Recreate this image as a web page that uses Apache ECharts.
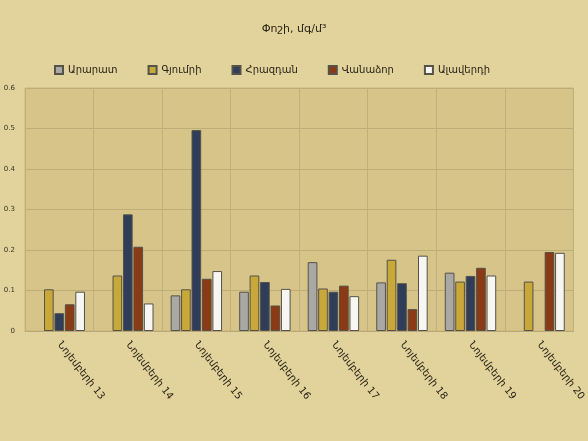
<!DOCTYPE html>
<html><head><meta charset="utf-8">
<script src="https://cdn.jsdelivr.net/npm/echarts@6/dist/echarts.min.js"></script>
<style>html,body{margin:0;padding:0;background:#e1d39b;}#c{width:588px;height:441px;}</style>
</head><body><div id="c"></div>
<script>
const categories = ['Նոյեմբերի 13','Նոյեմբերի 14','Նոյեմբերի 15','Նոյեմբերի 16','Նոյեմբերի 17','Նոյեմբերի 18','Նոյեմբերի 19','Նոյեմբերի 20'];
const ararat   = [null, null, 0.088, 0.097, 0.170, 0.120, 0.144, null];
const gyumri   = [0.103, 0.137, 0.103, 0.137, 0.105, 0.176, 0.122, 0.122];
const hrazdan  = [0.044, 0.288, 0.496, 0.121, 0.097, 0.118, 0.136, null];
const vanadzor = [0.066, 0.208, 0.129, 0.063, 0.112, 0.054, 0.156, 0.195];
const alaverdi = [0.097, 0.068, 0.148, 0.104, 0.086, 0.186, 0.137, 0.193];
const seriesNames = ['Արարատ','Գյումրի','Հրազդան','Վանաձոր','Ալավերդի'];
const yTicks = [0, 0.1, 0.2, 0.3, 0.4, 0.5, 0.6];

const colors = ['#a9a8a4','#c9a83a','#2f3d58','#8a3a14','#f7f6f2'];
const datasets = [ararat, gyumri, hrazdan, vanadzor, alaverdi];
const font = 'DejaVu Sans, Noto Sans, sans-serif';
const chart = echarts.init(document.getElementById('c'));
chart.setOption({
  backgroundColor: '#e1d39b',
  animation: false,
  title: {text: 'Փոշի, մգ/մ³', left: 'center', top: 19,
    textStyle: {fontSize: 11, fontWeight: 'normal', color: '#2a2418', fontFamily: font}},
  legend: {top: 60, left: 49, itemWidth: 8, itemHeight: 8, itemGap: 30,
    icon: 'rect', textStyle: {fontSize: 10, color: '#2a2418', fontFamily: font},
    data: seriesNames},
  grid: {left: 25, right: 13, top: 88, bottom: 110, show: true,
    backgroundColor: '#d6c489', borderColor: '#c8b57c', borderWidth: 1},
  xAxis: {type: 'category', data: categories,
    axisLine: {lineStyle: {color: '#b9a877'}}, axisTick: {show: false},
    splitLine: {show: true, lineStyle: {color: '#c2b07a'}},
    axisLabel: {rotate: -52, fontSize: 10, color: '#2a2418', fontFamily: font, margin: 12, interval: 0}},
  yAxis: {type: 'value', min: 0, max: 0.6, interval: 0.1,
    axisLine: {show: false}, axisTick: {show: false},
    splitLine: {lineStyle: {color: '#bfad78'}},
    axisLabel: {fontSize: 7, color: '#3a3224', margin: 10, fontFamily: font,
      formatter: v => yTicks.indexOf(Math.round(v*10)/10) >= 0 ? String(Math.round(v*10)/10) : ''}},
  series: datasets.map((d, i) => ({
    name: seriesNames[i], type: 'bar', data: d,
    barCategoryGap: '25%', barGap: '8%',
    itemStyle: {color: colors[i], borderColor: '#55524a', borderWidth: 1}
  }))
});
</script></body></html>
